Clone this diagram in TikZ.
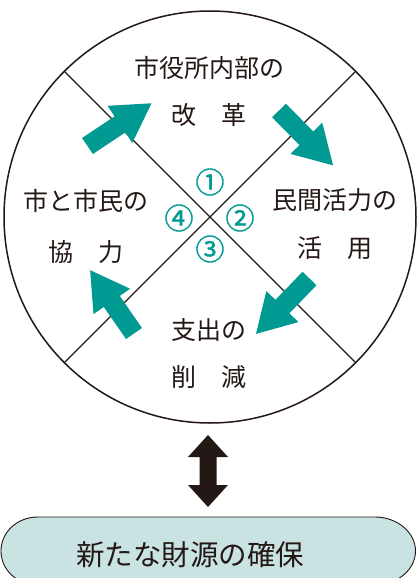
\documentclass[tikz,border=0pt]{standalone}
\usepackage{fontspec}
\setmainfont{Noto Sans CJK JP}
\newfontfamily\numfont[FakeBold=1.2]{Noto Sans CJK JP}
\definecolor{tealA}{HTML}{009A93}
\definecolor{boxfill}{HTML}{C9E3E2}
\definecolor{inkA}{HTML}{231815}
\newcommand\tealarrow[2]{%
  \begin{scope}[shift={#1},rotate=#2]
    \fill[tealA] (0,-9.7) -- (39,-9.7) -- (39,-22.3) -- (77,0) -- (39,22.3) -- (39,9.7) -- (0,9.7) -- cycle;
  \end{scope}}
\begin{document}
\begin{tikzpicture}[x=1pt,y=-1pt,
  lbl/.style={font=\fontsize{25}{25}\selectfont, inner sep=0pt, text=inkA},
  num/.style={font=\numfont\fontsize{29}{29}\selectfont, inner sep=0pt, text=tealA},
  divider/.style={draw=inkA, line width=1.3pt}]
\useasboundingbox (0,0) rectangle (417,578);
\clip (0,0) rectangle (417,578);
% circle and dividers
\node[circle, draw=inkA, line width=1.5pt, minimum size=412pt, inner sep=0pt] (c) at (210,217) {};
\draw[divider] (c.45) -- (c.225);
\draw[divider] (c.135) -- (c.315);
% block arrows
\tealarrow{(87.5,146)}{33.7}
\tealarrow{(279,110.5)}{-45.4}
\tealarrow{(309.5,278.5)}{-134}
\tealarrow{(134,333.5)}{124.7}
% labels
\node[lbl] (t1) at (209,68) {市役所内部の};
\node[lbl] (t1b) at (209,115) {改　革};
\node[lbl] (t2) at (335,200) {民間活力の};
\node[lbl] (t2b) at (335,248) {活　用};
\node[lbl] (t3) at (209,330) {支出の};
\node[lbl] (t3b) at (209,377) {削　減};
\node[lbl] (t4) at (86,201) {市と市民の};
\node[lbl] (t4b) at (86,252) {協　力};
% numbers
\node[num] (n1) at (210,182) {①};
\node[num] (n2) at (240,218) {②};
\node[num] (n3) at (210,249) {③};
\node[num] (n4) at (179,218) {④};
% double arrow
\fill[inkA] (208,435) -- (228,457) -- (216.5,457) -- (216.5,485) -- (228,485) -- (208,507)
  -- (188,485) -- (199.5,485) -- (199.5,457) -- (188,457) -- cycle;
% bottom box
\filldraw[fill=boxfill, draw=inkA, line width=0.9pt]
  (38,517) -- (375,517) .. controls (397,517) and (415.5,532.2) .. (415.5,551)
  .. controls (415.5,569.8) and (397,585) .. (375,585) -- (38,585)
  .. controls (17,585) and (1,569.8) .. (1,551)
  .. controls (1,532.2) and (17,517) .. (38,517) -- cycle;
\node[font=\fontsize{28.5}{28.5}\selectfont, inner sep=0pt, text=inkA] (g) at (190,555) {新たな財源の確保};
\end{tikzpicture}
\end{document}
